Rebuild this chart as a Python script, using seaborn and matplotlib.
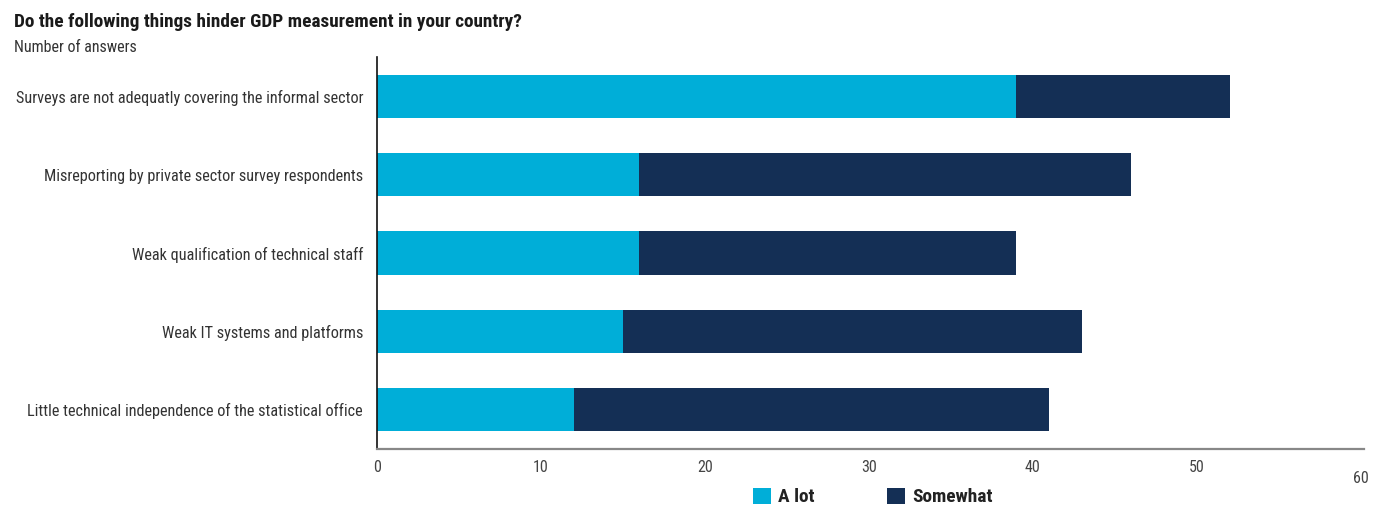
import matplotlib
matplotlib.use("Agg")
import matplotlib.pyplot as plt
import matplotlib.transforms as mtransforms
from matplotlib.patches import Patch
from matplotlib import font_manager
import seaborn as sns
import pandas as pd

categories = [
    "Surveys are not adequatly covering the informal sector",
    "Misreporting by private sector survey respondents",
    "Weak qualification of technical staff",
    "Weak IT systems and platforms",
    "Little technical independence of the statistical office",
]
a_lot = [39, 16, 16, 15, 12]
somewhat = [13, 30, 23, 28, 29]
x_ticks = [0, 10, 20, 30, 40, 50, 60]

COL_ALOT = "#00AED8"
COL_SOME = "#142F55"

sns.set_theme(style="white")


def pick_font():
    names = {f.name for f in font_manager.fontManager.ttflist}
    for cand in ("Roboto Condensed", "Liberation Sans Narrow", "Open Sans Condensed",
                 "Noto Sans Condensed", "Arial Narrow"):
        if cand in names:
            return cand, "normal"
    for f in font_manager.fontManager.ttflist:
        st = str(f.stretch).lower()
        if "condensed" in st and f.name in (
                "Roboto", "Noto Sans", "Open Sans", "Liberation Sans", "DejaVu Sans"):
            return f.name, f.stretch
    return "Liberation Sans", "normal"


FAMILY, STRETCH = pick_font()
plt.rcParams["font.family"] = [FAMILY, "DejaVu Sans"]
plt.rcParams["font.stretch"] = STRETCH

df = pd.DataFrame({
    "category": categories,
    "a_lot": a_lot,
    "total": [a + s for a, s in zip(a_lot, somewhat)],
})

fig = plt.figure(figsize=(13.8, 5.05), dpi=100)
ax = fig.add_axes([377 / 1380, 1 - 449 / 505, (1364 - 377) / 1380, (449 - 57) / 505])

sns.barplot(data=df, x="total", y="category", color=COL_SOME, width=0.55,
            saturation=1, ax=ax, orient="h", linewidth=0)
sns.barplot(data=df, x="a_lot", y="category", color=COL_ALOT, width=0.55,
            saturation=1, ax=ax, orient="h", linewidth=0)

ax.set_xlim(0, 60.2)
ax.set_xticks(x_ticks)
ax.set_xticklabels([str(t) for t in x_ticks])
ax.set_xlabel("")
ax.set_ylabel("")
ax.tick_params(axis="both", length=0)
ax.tick_params(axis="x", pad=8, labelsize=11.5, labelcolor="#444444")
ax.tick_params(axis="y", pad=10, labelcolor="#333333")

for side in ("top", "right"):
    ax.spines[side].set_visible(False)
ax.spines["left"].set_color("#111111")
ax.spines["left"].set_linewidth(1.2)
ax.spines["bottom"].set_color("#888888")
ax.spines["bottom"].set_linewidth(1.6)

title = fig.text(14 / 1380, 1 - 22 / 505,
                 "Do the following things hinder GDP measurement in your country?",
                 fontsize=10, fontweight="bold", color="#1a1a1a", va="center", ha="left")
subtitle = fig.text(14 / 1380, 1 - 48 / 505, "Number of answers",
                    fontsize=10, color="#333333", va="center", ha="left")

handles = [Patch(facecolor=COL_ALOT, edgecolor="none", label="A lot"),
           Patch(facecolor=COL_SOME, edgecolor="none", label="Somewhat")]

renderer = fig.canvas.get_renderer()


def width_of(t):
    return t.get_window_extent(renderer).width


def fit(t, target_px, cap=None):
    w = width_of(t)
    size = t.get_fontsize() * target_px / w
    if cap is not None:
        size = min(size, cap)
    t.set_fontsize(size)
    return size


# size the texts so they take the room the layout gives them
fit(title, 507, cap=16)
fit(subtitle, 123, cap=16)

ylabels = ax.get_yticklabels()
for t in ylabels:
    t.set_fontsize(10)
longest = max(ylabels, key=width_of)
ysize = fit(longest, 347, cap=15)
ax.tick_params(axis="y", labelsize=ysize)

# last x label sits a little lower than the others
last = ax.get_xticklabels()[-1]
last.set_transform(last.get_transform() +
                   mtransforms.ScaledTranslation(0, -11 / 100, fig.dpi_scale_trans))

probe = fig.text(0, 0, "Somewhat", fontsize=10, fontweight="bold")
lsize = min(10 * 80 / width_of(probe), 15)
probe.remove()

leg = fig.legend(handles=handles, loc="center", bbox_to_anchor=(873 / 1380, 1 - 497 / 505),
                 ncol=2, frameon=False, handlelength=0.9, handleheight=0.9,
                 handletextpad=0.4, columnspacing=3.75,
                 prop={"weight": "bold", "size": lsize})
for t in leg.get_texts():
    t.set_color("#222222")

fig.savefig("out.png", dpi=100)
